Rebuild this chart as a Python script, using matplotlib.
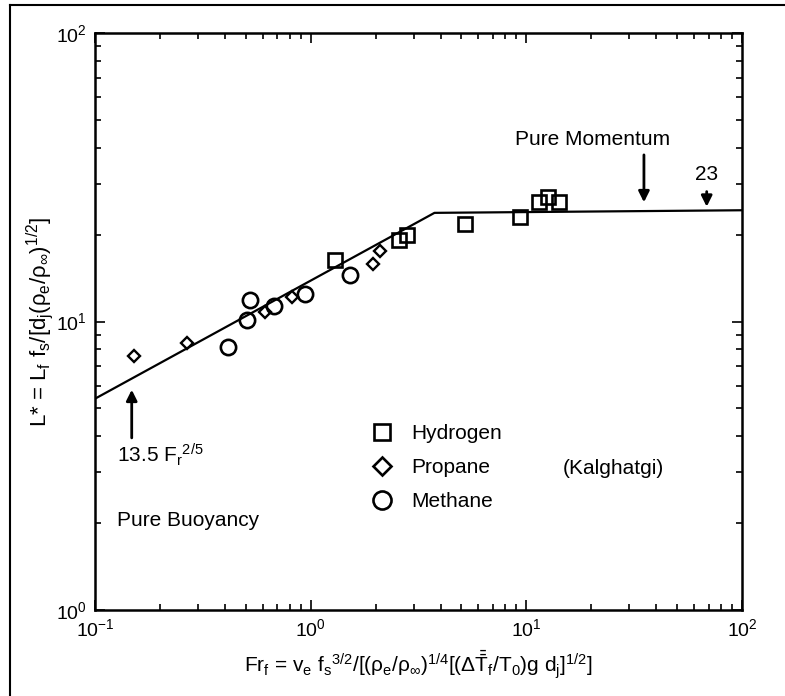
import matplotlib
matplotlib.use("Agg")
import matplotlib.pyplot as plt
from matplotlib.lines import Line2D

plt.rcParams["font.family"] = ["Liberation Sans", "DejaVu Sans"]
plt.rcParams["mathtext.fontset"] = "custom"
plt.rcParams["mathtext.rm"] = "Liberation Sans"
plt.rcParams["mathtext.it"] = "Liberation Sans"
plt.rcParams["mathtext.bf"] = "Liberation Sans:bold"

# data (Kalghatgi flame lengths)
h2_fr = [1.30, 2.58, 2.80, 5.22, 9.34, 11.5, 12.6, 14.1]
h2_L = [16.3, 19.1, 20.0, 21.8, 23.1, 26.0, 27.1, 26.0]

c3_fr = [0.152, 0.266, 0.614, 0.816, 1.94, 2.09]
c3_L = [7.6, 8.45, 10.8, 12.2, 15.8, 17.5]

ch4_fr = [0.415, 0.505, 0.523, 0.676, 0.942, 1.52]
ch4_L = [8.14, 10.1, 11.9, 11.3, 12.5, 14.5]

# correlation: 13.5 Fr^(2/5) up to the knee, then flat (~23)
fit_fr = [0.1, 3.75, 100.0]
fit_L = [5.4, 23.8, 24.3]

fig = plt.figure(figsize=(7.85, 6.96), dpi=100)
ax = fig.add_axes([95 / 785, 86 / 696, 647 / 785, 577 / 696])

ax.plot(fit_fr, fit_L, color="black", lw=1.6)
ax.plot(h2_fr, h2_L, "s", ms=9.5, mfc="none", mec="black", mew=1.9)
ax.plot(c3_fr, c3_L, "D", ms=6.5, mfc="none", mec="black", mew=1.7)
ax.plot(ch4_fr, ch4_L, "o", ms=11, mfc="none", mec="black", mew=1.9)

ax.set_xscale("log")
ax.set_yscale("log")
ax.set_xlim(0.1, 100)
ax.set_ylim(1, 100)

for s in ax.spines.values():
    s.set_linewidth(1.8)
ax.tick_params(which="both", direction="in", top=True, right=True,
               labelsize=14, width=1.2, colors="black")
ax.tick_params(which="major", length=7, pad=6)
ax.tick_params(which="minor", length=4)

ax.set_xlabel(r"Fr$_f$ = v$_e$ f$_s$$^{3/2}$/[($\rho_e/\rho_\infty$)$^{1/4}$"
              r"[($\Delta\bar{\bar{T}}_f$/T$_0$)g d$_j$]$^{1/2}$]",
              fontsize=15, labelpad=6)
ax.set_ylabel(r"L* = L$_f$ f$_s$/[d$_j$($\rho_e/\rho_\infty$)$^{1/2}$]",
              fontsize=16, labelpad=0)

# annotations
arrow = dict(arrowstyle="-|>", color="black", lw=2, mutation_scale=16,
             shrinkA=0, shrinkB=0)
ax.annotate("", xy=(0.148, 5.8), xytext=(0.148, 3.95), arrowprops=arrow)
ax.text(0.126, 3.45, r"13.5 F$_r$$^{2/5}$", fontsize=15, va="center")
ax.text(0.126, 2.05, "Pure Buoyancy", fontsize=15, va="center")

ax.annotate("", xy=(35.1, 25.9), xytext=(35.1, 37.8), arrowprops=arrow)
ax.text(20.2, 42.6, "Pure Momentum", fontsize=15, ha="center", va="center")

ax.annotate("", xy=(68.6, 25.0), xytext=(68.6, 28.2), arrowprops=arrow)
ax.text(68.6, 32.2, "23", fontsize=15, ha="center", va="center")

ax.text((563 - 95) / 647, (610 - 469) / 577, "(Kalghatgi)", fontsize=15,
        va="center", transform=ax.transAxes)

handles = [
    Line2D([], [], ls="none", marker="s", ms=11, mfc="none", mec="black", mew=1.9),
    Line2D([], [], ls="none", marker="D", ms=9, mfc="none", mec="black", mew=1.9),
    Line2D([], [], ls="none", marker="o", ms=13, mfc="none", mec="black", mew=1.9),
]
ax.legend(handles, ["Hydrogen", "Propane", "Methane"], loc="upper left",
          bbox_to_anchor=((372 - 95) / 647, (610 - 424) / 577),
          frameon=False, fontsize=15, handlelength=1.0, handletextpad=0.9,
          labelspacing=0.72, borderpad=0, borderaxespad=0)

# outer frame of the scanned page
fig.add_artist(Line2D([10 / 785, 1], [1 - 5 / 696, 1 - 5 / 696],
                      transform=fig.transFigure, color="black", lw=1.5))
fig.add_artist(Line2D([10 / 785, 10 / 785], [0, 1 - 5 / 696],
                      transform=fig.transFigure, color="black", lw=1.5))

fig.savefig("out.png", dpi=100)
